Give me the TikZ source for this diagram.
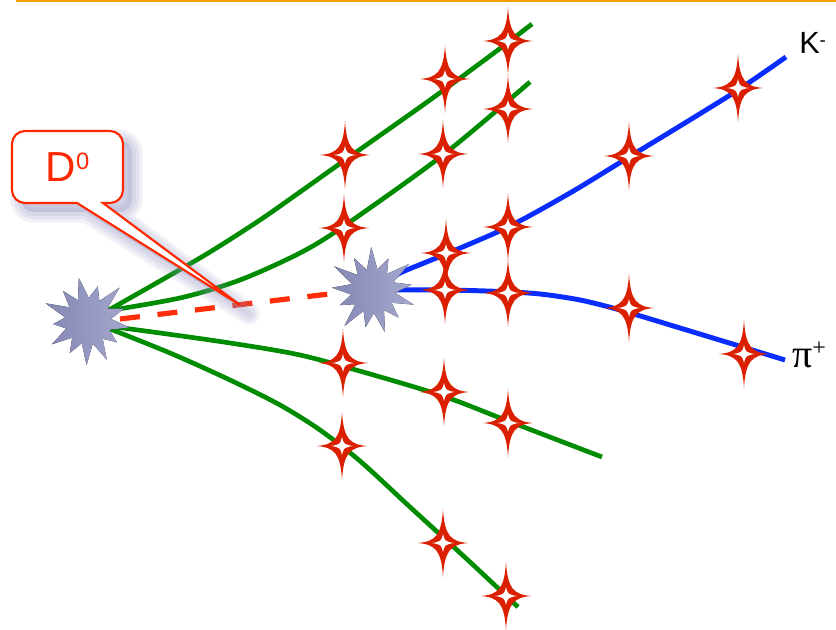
\documentclass[tikz,border=0pt]{standalone}
\usepackage{fontspec}
\setmainfont{Liberation Sans}
\newfontfamily\greekserif{Liberation Serif}

\definecolor{trackgreen}{RGB}{0,140,0}
\definecolor{trackblue}{RGB}{10,45,255}
\definecolor{hitred}{RGB}{218,32,0}
\definecolor{flightred}{RGB}{255,45,10}
\definecolor{calloutred}{RGB}{255,40,0}
\definecolor{ruleorange}{RGB}{240,160,0}
\definecolor{burstdark}{RGB}{132,135,180}
\definecolor{burstlight}{RGB}{165,168,205}
\definecolor{shadowblue}{RGB}{140,142,190}

% outline of the callout box with its pointer
\newcommand\calloutoutline{(103,203) -- (110,203) arc[start angle=90, end angle=0, radius=13]
  -- (123,144) arc[start angle=0, end angle=-90, radius=13]
  -- (25,131) arc[start angle=-90, end angle=-180, radius=13]
  -- (12,190) arc[start angle=180, end angle=90, radius=13]
  -- (77,203) -- (240,305) -- cycle}

% spiky vertex burst: centre, rotation, inner radius, outer radii of the 13 spikes
\newcommand\vertexburst[4]{%
  \begin{scope}[shift={#1}, rotate=#2]
    \fill[left color=burstdark, right color=burstlight]
      (0:#3) \foreach \r [count=\i from 0] in {#4} { -- ({(\i+0.5)*360/13}:\r) -- ({(\i+1)*360/13}:#3) } -- cycle;
  \end{scope}}

\tikzset{
  greentrack/.style={draw=trackgreen, line width=3.5pt},
  bluetrack/.style={draw=trackblue, line width=3.7pt},
  flight/.style={draw=flightred, line width=3.9pt, dash pattern=on 15pt off 13.3pt},
  hit/.pic={
    \fill[hitred] (0,-34) .. controls (1.6,-7.5) and (7.5,-1.6) .. (25,0)
      .. controls (7.5,1.6) and (1.6,7.5) .. (0,34)
      .. controls (-1.6,7.5) and (-7.5,1.6) .. (-25,0)
      .. controls (-7.5,-1.6) and (-1.6,-7.5) .. (0,-34) -- cycle;
    \fill[white] (0,-9) .. controls (1.2,-2.4) and (2.4,-1.2) .. (11,0)
      .. controls (2.4,1.2) and (1.2,2.4) .. (0,9)
      .. controls (-1.2,2.4) and (-2.4,1.2) .. (-11,0)
      .. controls (-2.4,-1.2) and (-1.2,-2.4) .. (0,-9) -- cycle;
  }
}

\begin{document}
\begin{tikzpicture}[x=0.75pt, y=-0.75pt]
\useasboundingbox (0,0) rectangle (836,630);

% rule along the top edge
\coordinate (ruleL) at (16,1);
\coordinate (ruleR) at (836,1);
\draw[ruleorange, line width=1.5pt] (ruleL) -- (ruleR);

% vertices
\coordinate (pv) at (88,321);
\coordinate (sv) at (373,291);

% charged tracks from the primary vertex
\draw[greentrack] plot[smooth] coordinates {(100,315) (160,281) (210,252) (260,220) (300,192) (345,160) (430,100) (498,50) (532,24)};
\draw[greentrack] plot[smooth] coordinates {(100,312) (180,298) (240,280) (300,253) (344,226) (443,155) (530,82)};
\draw[greentrack] plot[smooth] coordinates {(100,325) (160,333) (230,343) (300,355) (370,374) (443,396) (508,421) (602,457)};
\draw[greentrack] plot[smooth] coordinates {(100,325) (170,353) (230,380) (280,405) (320,430) (360,461) (410,507) (470,562) (518,607)};

% D0 flight path
\coordinate (dstart) at (120,319);
\coordinate (dend) at (329,294);
\draw[flight] (dstart) -- (dend);

% decay products of the secondary vertex
\draw[bluetrack] plot[smooth] coordinates {(380,285) (400,273) (446,254) (508,227) (570,193) (629,157) (680,126) (738,90) (786,57)};
\draw[bluetrack] plot[smooth] coordinates {(385,290) (445,290) (500,291.5) (540,294) (580,300) (620,310) (680,328) (785,360)};

% vertex bursts
\vertexburst{(pv)}{-78}{23}{44,37,43,35,46,39,44,36,46,38,42,36,43}
\vertexburst{(sv)}{-60}{22}{43,37,45,36,41,46,38,44,36,45,39,43,37}

% detector hits
\pic (h1) at (508,41) {hit};
\pic (h2) at (445,79) {hit};
\pic (h3) at (508,109) {hit};
\pic (h4) at (738,88) {hit};
\pic (h5) at (345,155) {hit};
\pic (h6) at (443,154) {hit};
\pic (h7) at (629,156) {hit};
\pic (h8) at (344,228) {hit};
\pic (h9) at (508,227) {hit};
\pic (h10) at (446,253) {hit};
\pic (h11) at (445,290) {hit};
\pic (h12) at (508,293) {hit};
\pic (h13) at (629,308) {hit};
\pic (h14) at (744,354) {hit};
\pic (h15) at (343,363) {hit};
\pic (h16) at (444,392) {hit};
\pic (h17) at (508,423) {hit};
\pic (h18) at (342,446) {hit};
\pic (h19) at (443,543) {hit};
\pic (h20) at (506,596) {hit};

% callout: soft shadow, then the box itself
\begin{scope}[shift={(9,9)}]
  \foreach \w in {16,11,6}
    \draw[shadowblue, line width=\w pt, opacity=0.13, line join=round] \calloutoutline;
  \fill[shadowblue, opacity=0.3] \calloutoutline;
\end{scope}
\filldraw[fill=white, draw=calloutred, line width=1.6pt, line join=miter] \calloutoutline;
\node[anchor=base, inner sep=0pt, text=calloutred] (dlabel) at (67.5,181.7)
  {\fontsize{31.5}{32}\selectfont D\raisebox{9.5pt}{\fontsize{17.8}{18}\selectfont 0}};

% particle labels
\node[anchor=base west, inner sep=0pt] (klabel) at (799,53.5)
  {\fontsize{23}{23}\selectfont K\raisebox{5pt}{\fontsize{14}{14}\selectfont -}};
\node[anchor=base west, inner sep=0pt] (pilabel) at (792,368)
  {\fontsize{30}{30}\greekserif π\raisebox{9pt}{\fontsize{18}{18}\selectfont +}};

\end{tikzpicture}
\end{document}
